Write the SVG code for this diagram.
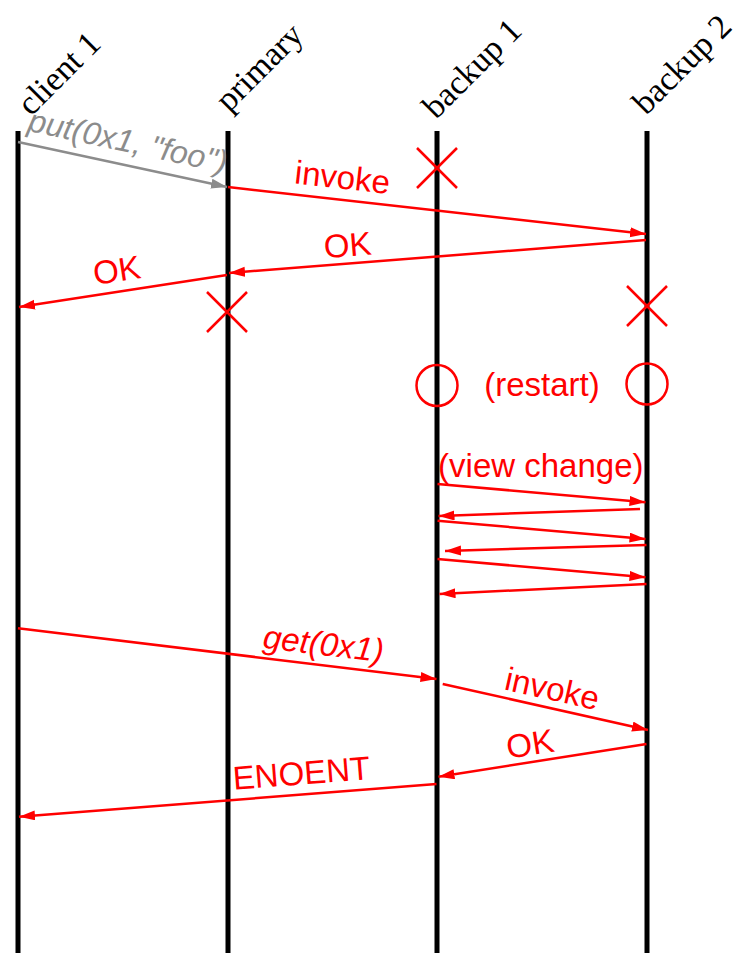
<svg xmlns="http://www.w3.org/2000/svg" width="738" height="953" viewBox="0 0 738 953">
  <style>
    .life { stroke: #000; stroke-width: 5; }
    .head { font-family: "Liberation Serif", "Times New Roman", serif; font-size: 34px; fill: #000; }
    .msg { stroke: #ff0000; stroke-width: 2.5; fill: none; marker-end: url(#arrowRed); }
    .msgGray { stroke: #8c8c8c; stroke-width: 2.5; fill: none; marker-end: url(#arrowGray); }
    .lbl { font-family: "Liberation Sans", Arial, sans-serif; font-size: 33px; fill: #ff0000; text-anchor: middle; }
    .lblGray { font-family: "Liberation Sans", Arial, sans-serif; font-size: 32px; fill: #8c8c8c; text-anchor: middle; font-style: italic; }
    .it { font-style: italic; }
    .mark { stroke: #ff0000; stroke-width: 2.5; fill: none; }
  </style>
  <defs>
    <marker id="arrowRed" markerUnits="userSpaceOnUse" markerWidth="17" markerHeight="11" refX="16" refY="5" orient="auto">
      <path d="M0,0 L16,5 L0,10 Z" fill="#ff0000"/>
    </marker>
    <marker id="arrowGray" markerUnits="userSpaceOnUse" markerWidth="17" markerHeight="11" refX="16" refY="5" orient="auto">
      <path d="M0,0 L16,5 L0,10 Z" fill="#8c8c8c"/>
    </marker>
  </defs>
  <rect width="738" height="953" fill="#fff"/>

  <!-- participants: lifelines with slanted headers -->
  <g id="client1">
    <line class="life" x1="18" y1="131" x2="18" y2="953"/>
    <text class="head" transform="translate(31,117) rotate(-45)">client 1</text>
  </g>
  <g id="primary">
    <line class="life" x1="228" y1="131" x2="228" y2="953"/>
    <text class="head" transform="translate(229,113) rotate(-45)">primary</text>
  </g>
  <g id="backup1">
    <line class="life" x1="437" y1="131" x2="437" y2="953"/>
    <text class="head" transform="translate(436,120) rotate(-45)">backup 1</text>
  </g>
  <g id="backup2">
    <line class="life" x1="647" y1="131" x2="647" y2="953"/>
    <text class="head" transform="translate(646,116) rotate(-45)">backup 2</text>
  </g>

  <!-- crash and restart events -->
  <g id="events">
    <path class="mark" d="M417,148 L457,188 M457,148 L417,188"/>
    <path class="mark" d="M207,292 L247,332 M247,292 L207,332"/>
    <path class="mark" d="M627,286 L667,326 M667,286 L627,326"/>
    <circle class="mark" cx="437" cy="385.5" r="20.5"/>
    <circle class="mark" cx="647" cy="384" r="20.5"/>
    <text class="lbl" x="542" y="396">(restart)</text>
  </g>

  <!-- messages -->
  <g id="connectors">
    <line class="msgGray" x1="18" y1="142" x2="227" y2="187"/>
    <line class="msg" x1="228" y1="187" x2="646" y2="234"/>
    <line class="msg" x1="646" y1="240" x2="229" y2="273"/>
    <line class="msg" x1="227" y1="275" x2="19" y2="307"/>

    <line class="msg" x1="437.5" y1="484" x2="645.5" y2="502.3"/>
    <line class="msg" x1="640" y1="509" x2="438.5" y2="516"/>
    <line class="msg" x1="437.5" y1="520.7" x2="645.5" y2="539"/>
    <line class="msg" x1="646.5" y1="545" x2="445" y2="551"/>
    <line class="msg" x1="437.5" y1="559" x2="645.5" y2="577.3"/>
    <line class="msg" x1="646.5" y1="584" x2="439.5" y2="594"/>

    <line class="msg" x1="18" y1="628.3" x2="436.5" y2="679"/>
    <line class="msg" x1="442.7" y1="684" x2="648" y2="730"/>
    <line class="msg" x1="646.5" y1="744" x2="438.5" y2="776.7"/>
    <line class="msg" x1="436.5" y1="784" x2="19" y2="816.7"/>
  </g>

  <!-- message labels -->
  <g id="labels">
    <text class="lblGray" transform="translate(123,164.6) rotate(12.15)" y="-13">put(0x1, "foo")</text>
    <text class="lbl" transform="translate(340,199.6) rotate(6.42)" y="-11">invoke</text>
    <text class="lbl" transform="translate(349,263.4) rotate(-4.51)" y="-7">OK</text>
    <text class="lbl" transform="translate(120,291.3) rotate(-8.7)" y="-10">OK</text>
    <text class="lbl" x="540.8" y="476.5">(view change)</text>
    <text class="lbl it" transform="translate(321,665) rotate(6.94)" y="-10">get(0x1)</text>
    <text class="lbl" transform="translate(548,707.6) rotate(12.63)" y="-8">invoke</text>
    <text class="lbl" transform="translate(533,761.9) rotate(-8.92)" y="-7">OK</text>
    <text class="lbl" transform="translate(303,794.4) rotate(-4.47)" y="-10">ENOENT</text>
  </g>
</svg>
